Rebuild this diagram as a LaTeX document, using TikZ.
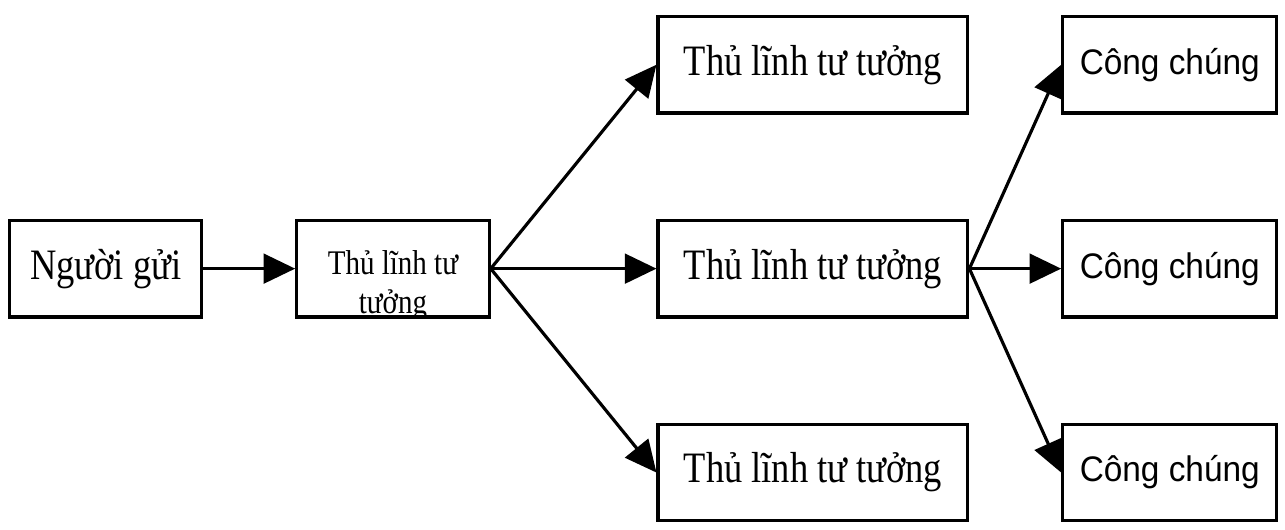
\documentclass[tikz,border=0pt]{standalone}
\usepackage{fontspec}
\usetikzlibrary{matrix,arrows.meta}
\newfontfamily\boxserif[FakeStretch=0.84]{Liberation Serif}
\newfontfamily\boxsans[FakeStretch=0.94]{Liberation Sans}

\begin{document}
\begin{tikzpicture}[
	>={Triangle[length=16pt,width=15pt]},
	box/.style={draw, line width=1.6pt, minimum height=49pt, inner sep=0pt, anchor=center},
	sender/.style={box, minimum width=97.5pt, font=\boxserif\fontsize{22}{24}\selectfont},
	relaytext/.style={draw=none, inner sep=0pt, anchor=base, font=\boxserif\fontsize{17.5}{19.5}\selectfont},
	relay/.style={box, minimum width=97.5pt, path picture={
		\node[relaytext] at ([yshift=-27.5pt]path picture bounding box.north) {Thủ lĩnh tư};
		\node[relaytext] at ([yshift=-47pt]path picture bounding box.north) {tưởng};
	}},
	leader/.style={box, minimum width=157pt, font=\boxserif\fontsize{22}{24}\selectfont},
	public/.style={box, minimum width=108.5pt, font=\boxsans\fontsize{18}{20}\selectfont}
]
			\matrix (b) [matrix of nodes, row sep=52.75pt, column sep=46.5pt]
			{
				& &[37.5pt] |[leader]| Thủ lĩnh tư tưởng & |[public]| Công chúng \\
				|[sender]| Người gửi & |[relay]| \mbox{} &[37.5pt] |[leader]| Thủ lĩnh tư tưởng & |[public]| Công chúng \\
				& &[37.5pt] |[leader]| Thủ lĩnh tư tưởng & |[public]| Công chúng \\
			};
			\path[->, line width=1.6pt]
			(b-2-1) edge (b-2-2)
			(b-2-2.east) edge (b-1-3.west)
					edge (b-2-3)
					edge (b-3-3.west)
			(b-2-3.east) edge (b-1-4.west)
					edge (b-2-4)
					edge (b-3-4.west);
			\useasboundingbox ([xshift=-4pt,yshift=7.5pt]b-2-1.west |- b-1-3.north) rectangle ([xshift=0.5pt,yshift=-0.5pt]b-3-4.east |- b-3-3.south);
		\end{tikzpicture}
\end{document}
